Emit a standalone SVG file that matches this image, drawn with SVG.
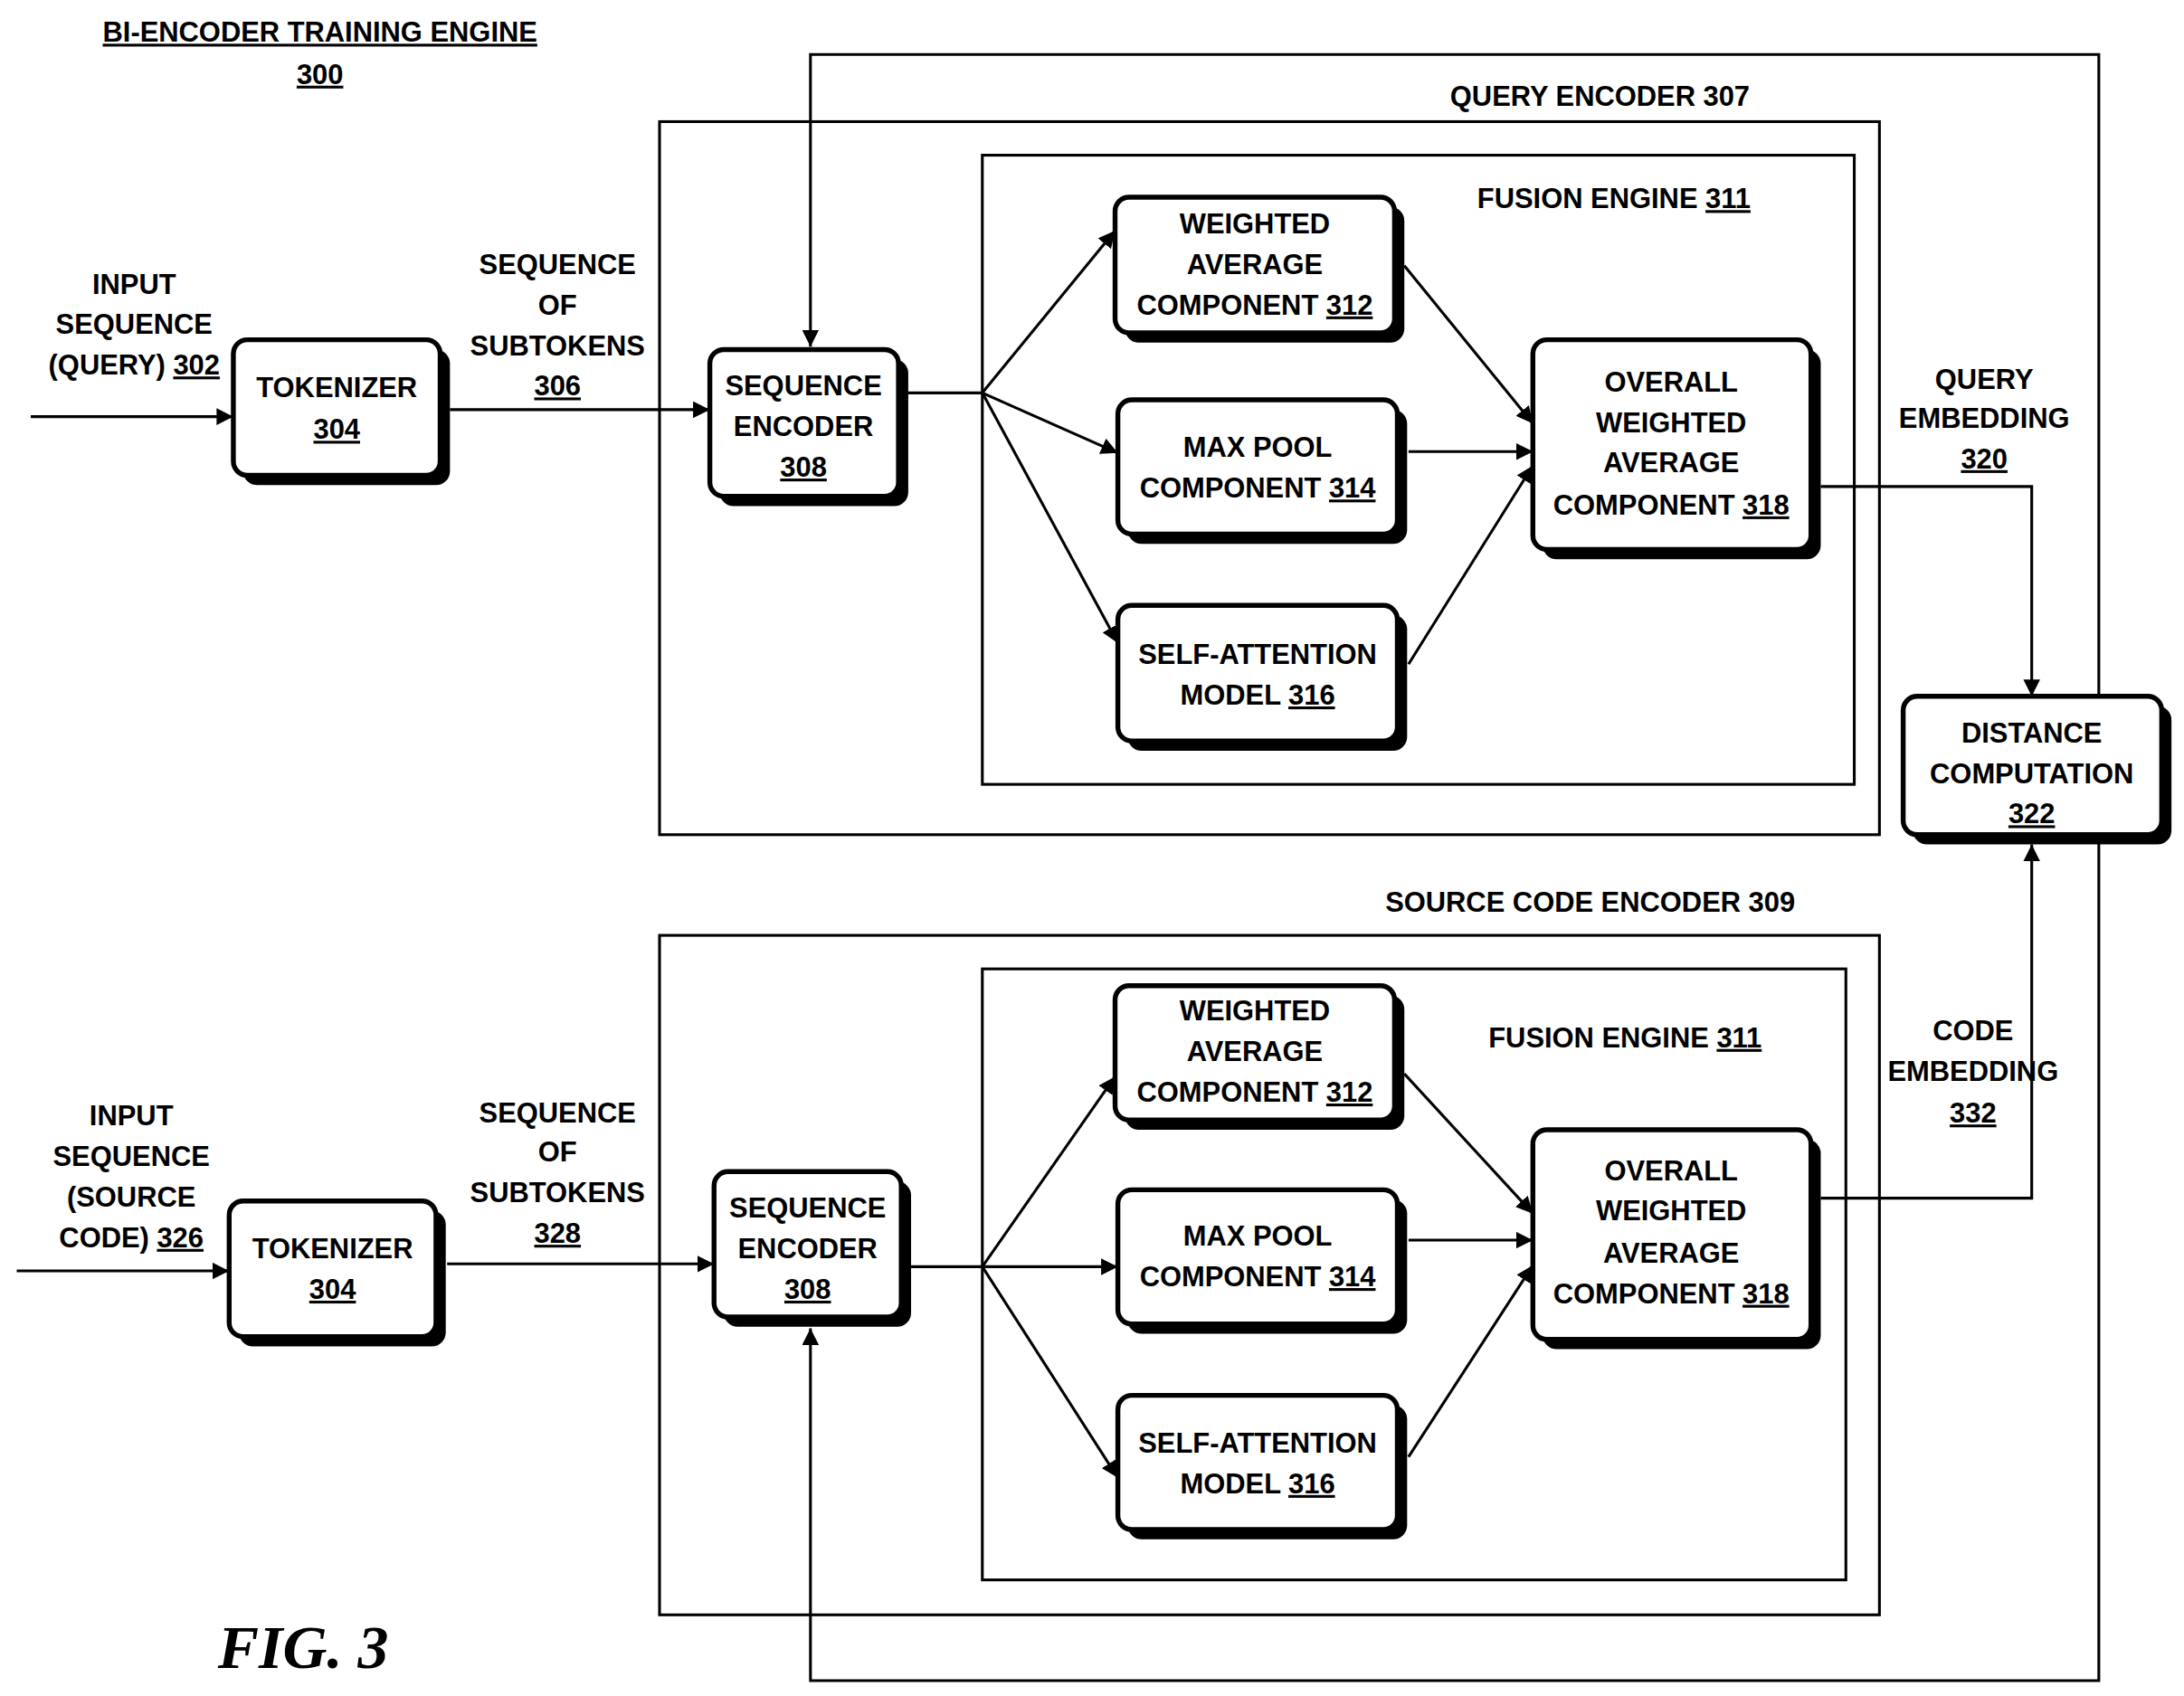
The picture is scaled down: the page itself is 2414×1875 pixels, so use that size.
<svg xmlns="http://www.w3.org/2000/svg" width="2414" height="1875" viewBox="0 0 2414 1875">
<defs>
<style>
text{font-family:"Liberation Sans",Arial,sans-serif;font-weight:bold;font-size:20px;text-anchor:middle;fill:#000}
.u{text-decoration:underline}
.box{fill:#fff;stroke:#000;stroke-width:3.5}
.sh{fill:#000}
.frame{fill:none;stroke:#000;stroke-width:2}
.ln{fill:none;stroke:#000;stroke-width:2}
.fig{font-family:"Liberation Serif",serif;font-style:italic;font-size:44px}
</style>
<marker id="ah" viewBox="0 0 10 10" refX="10" refY="5" markerWidth="12" markerHeight="12" markerUnits="userSpaceOnUse" orient="auto"><path d="M0,0L10,5L0,10z" fill="#000"/></marker>
<marker id="ahs" viewBox="0 0 10 10" refX="10" refY="5" markerWidth="12" markerHeight="12" markerUnits="userSpaceOnUse" orient="auto-start-reverse"><path d="M0,0L10,5L0,10z" fill="#000"/></marker>
</defs>
<rect width="2414" height="1875" fill="#fff"/>
<g transform="scale(1.5445,1.5457)">
<g id="title"><text x="229" y="30" class="u">BI-ENCODER TRAINING ENGINE</text><text x="229" y="60" class="u">300</text></g>
<g id="frames">
<rect class="frame" x="472" y="87" width="873" height="510"/>
<text x="1145" y="76">QUERY ENCODER 307</text>
<rect class="frame" x="703" y="111" width="624" height="450"/>
<text x="1155" y="149">FUSION ENGINE <tspan class="u">311</tspan></text>
<rect class="frame" x="472" y="669" width="873" height="486"/>
<text x="1138" y="652">SOURCE CODE ENCODER  309</text>
<rect class="frame" x="703" y="693" width="618" height="437"/>
<text x="1163" y="749">FUSION ENGINE <tspan class="u">311</tspan></text>
</g>
<g id="connectors">
<path class="ln" d="M580,248V39H1502V1202H580V950" marker-start="url(#ahs)" marker-end="url(#ah)"/>
<path class="ln" d="M22,298H167" marker-end="url(#ah)"/>
<path class="ln" d="M322,293H508" marker-end="url(#ah)"/>
<path class="ln" d="M650,281H703"/>
<path class="ln" d="M703,281L798,165" marker-end="url(#ah)"/>
<path class="ln" d="M703,281L800,324" marker-end="url(#ah)"/>
<path class="ln" d="M703,281L800,460" marker-end="url(#ah)"/>
<path class="ln" d="M1005,190L1097,303" marker-end="url(#ah)"/>
<path class="ln" d="M1008,323H1097" marker-end="url(#ah)"/>
<path class="ln" d="M1008,475L1097,333" marker-end="url(#ah)"/>
<path class="ln" d="M1303,348H1454V498" marker-end="url(#ah)"/>
<path class="ln" d="M12,909H164" marker-end="url(#ah)"/>
<path class="ln" d="M320,904H511" marker-end="url(#ah)"/>
<path class="ln" d="M652,906H703"/>
<path class="ln" d="M703,906L798,770" marker-end="url(#ah)"/>
<path class="ln" d="M703,906H800" marker-end="url(#ah)"/>
<path class="ln" d="M703,906L800,1057" marker-end="url(#ah)"/>
<path class="ln" d="M1005,768L1097,868" marker-end="url(#ah)"/>
<path class="ln" d="M1008,887H1097" marker-end="url(#ah)"/>
<path class="ln" d="M1008,1042L1097,905" marker-end="url(#ah)"/>
<path class="ln" d="M1303,857H1454V604" marker-end="url(#ah)"/>
</g>
<g id="labels">
<text x="96" y="210">INPUT</text><text x="96" y="239">SEQUENCE</text><text x="96" y="268">(QUERY)  <tspan class="u">302</tspan></text>
<text x="399" y="196">SEQUENCE</text><text x="399" y="225">OF</text><text x="399" y="254">SUBTOKENS</text><text x="399" y="283" class="u">306</text>
<text x="1420" y="278">QUERY</text><text x="1420" y="306">EMBEDDING</text><text x="1420" y="335" class="u">320</text>
<text x="94" y="805">INPUT</text><text x="94" y="834">SEQUENCE</text><text x="94" y="863">(SOURCE</text><text x="94" y="892">CODE)  <tspan class="u">326</tspan></text>
<text x="399" y="803">SEQUENCE</text><text x="399" y="831">OF</text><text x="399" y="860">SUBTOKENS</text><text x="399" y="889" class="u">328</text>
<text x="1412" y="744">CODE</text><text x="1412" y="773">EMBEDDING</text><text x="1412" y="803" class="u">332</text>
<text x="217" y="1193" class="fig">FIG. 3</text>
</g>
<g id="tok1"><rect class="sh" x="174" y="250" width="148" height="97" rx="10"/><rect class="box" x="167" y="243" width="148" height="97" rx="10"/><text x="241" y="284">TOKENIZER</text><text x="241" y="314" class="u">304</text></g>
<g id="seq1"><rect class="sh" x="515" y="257" width="135" height="105" rx="10"/><rect class="box" x="508" y="250" width="135" height="105" rx="10"/><text x="575" y="283">SEQUENCE</text><text x="575" y="312">ENCODER</text><text x="575" y="341" class="u">308</text></g>
<g id="wa1"><rect class="sh" x="805" y="148" width="200" height="97" rx="10"/><rect class="box" x="798" y="141" width="200" height="97" rx="10"/><text x="898" y="167">WEIGHTED</text><text x="898" y="196">AVERAGE</text><text x="898" y="225">COMPONENT <tspan class="u">312</tspan></text></g>
<g id="mp1"><rect class="sh" x="807" y="293" width="200" height="96" rx="10"/><rect class="box" x="800" y="286" width="200" height="96" rx="10"/><text x="900" y="327">MAX POOL</text><text x="900" y="356">COMPONENT <tspan class="u">314</tspan></text></g>
<g id="sa1"><rect class="sh" x="807" y="440" width="200" height="97" rx="10"/><rect class="box" x="800" y="433" width="200" height="97" rx="10"/><text x="900" y="475">SELF-ATTENTION</text><text x="900" y="504">MODEL  <tspan class="u">316</tspan></text></g>
<g id="ow1"><rect class="sh" x="1104" y="250" width="199" height="150" rx="10"/><rect class="box" x="1097" y="243" width="199" height="150" rx="10"/><text x="1196" y="280">OVERALL</text><text x="1196" y="309">WEIGHTED</text><text x="1196" y="338">AVERAGE</text><text x="1196" y="368">COMPONENT  <tspan class="u">318</tspan></text></g>
<g id="dist"><rect class="sh" x="1369" y="505" width="185" height="99" rx="10"/><rect class="box" x="1362" y="498" width="185" height="99" rx="10"/><text x="1454" y="531">DISTANCE</text><text x="1454" y="560">COMPUTATION</text><text x="1454" y="589" class="u">322</text></g>
<g id="tok2"><rect class="sh" x="171" y="866" width="148" height="97" rx="10"/><rect class="box" x="164" y="859" width="148" height="97" rx="10"/><text x="238" y="900">TOKENIZER</text><text x="238" y="929" class="u">304</text></g>
<g id="seq2"><rect class="sh" x="518" y="845" width="134" height="104" rx="10"/><rect class="box" x="511" y="838" width="134" height="104" rx="10"/><text x="578" y="871">SEQUENCE</text><text x="578" y="900">ENCODER</text><text x="578" y="929" class="u">308</text></g>
<g id="wa2"><rect class="sh" x="805" y="712" width="200" height="96" rx="10"/><rect class="box" x="798" y="705" width="200" height="96" rx="10"/><text x="898" y="730">WEIGHTED</text><text x="898" y="759">AVERAGE</text><text x="898" y="788">COMPONENT <tspan class="u">312</tspan></text></g>
<g id="mp2"><rect class="sh" x="807" y="858" width="200" height="96" rx="10"/><rect class="box" x="800" y="851" width="200" height="96" rx="10"/><text x="900" y="891">MAX POOL</text><text x="900" y="920">COMPONENT <tspan class="u">314</tspan></text></g>
<g id="sa2"><rect class="sh" x="807" y="1005" width="200" height="96" rx="10"/><rect class="box" x="800" y="998" width="200" height="96" rx="10"/><text x="900" y="1039">SELF-ATTENTION</text><text x="900" y="1068">MODEL  <tspan class="u">316</tspan></text></g>
<g id="ow2"><rect class="sh" x="1104" y="815" width="199" height="150" rx="10"/><rect class="box" x="1097" y="808" width="199" height="150" rx="10"/><text x="1196" y="844">OVERALL</text><text x="1196" y="873">WEIGHTED</text><text x="1196" y="903">AVERAGE</text><text x="1196" y="932">COMPONENT  <tspan class="u">318</tspan></text></g>
</g>
</svg>
